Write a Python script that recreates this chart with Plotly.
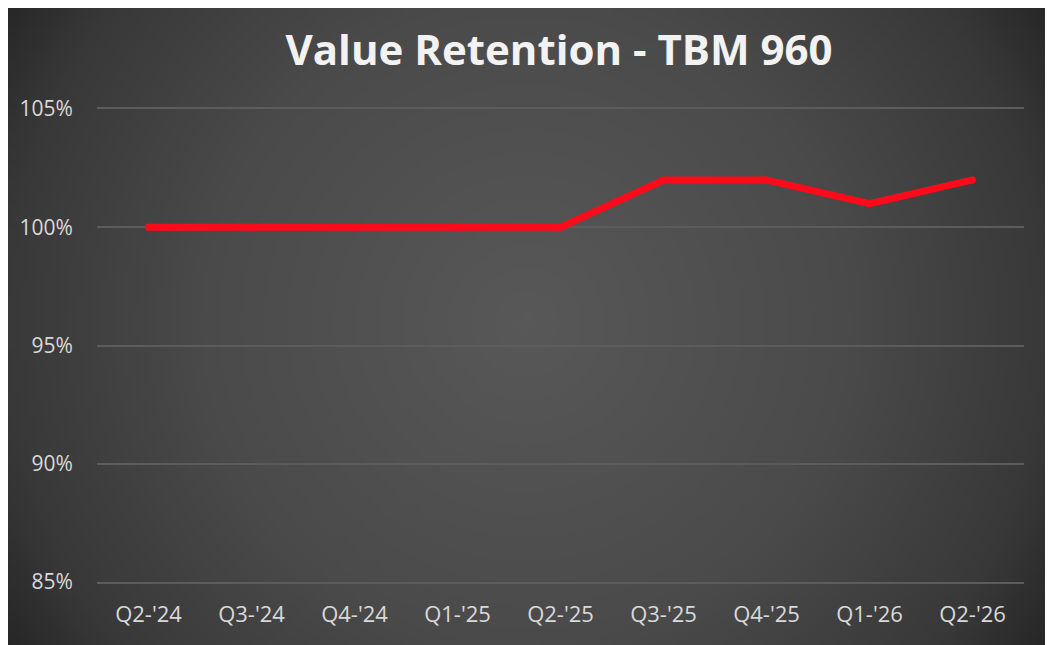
import base64
import struct
import zlib

import numpy as np
import plotly.graph_objects as go

quarters = ["Q2-'24", "Q3-'24", "Q4-'24", "Q1-'25", "Q2-'25", "Q3-'25", "Q4-'25", "Q1-'26", "Q2-'26"]
retention = [1.00, 1.00, 1.00, 1.00, 1.00, 1.02, 1.02, 1.01, 1.02]
y_ticks = [0.85, 0.90, 0.95, 1.00, 1.05]

W, H = 1053, 645
# the page body adds an 8px offset, so everything is placed 8px up/left
OFF = 8
L, R, T, B = 97 - OFF, 1024 - OFF, 109 - OFF, 582 - OFF
PW, PH = R - L, B - T

red = "#ff0a1a"
grid = "#5c5c5c"
label = "#d9d9d9"
font = "Open Sans"


def png_uri(rgb):
    h, w, _ = rgb.shape
    raw = b"".join(b"\x00" + rgb[i].tobytes() for i in range(h))

    def chunk(tag, data):
        return struct.pack(">I", len(data)) + tag + data + struct.pack(">I", zlib.crc32(tag + data) & 0xffffffff)

    png = (b"\x89PNG\r\n\x1a\n"
           + chunk(b"IHDR", struct.pack(">IIBBBBB", w, h, 8, 2, 0, 0, 0))
           + chunk(b"IDAT", zlib.compress(raw, 9))
           + chunk(b"IEND", b""))
    return "data:image/png;base64," + base64.b64encode(png).decode()


# radial grey background like the Excel chart area (quarter resolution, stretched)
S = 4
cx, cy, rad = (526 - OFF) / S, (322 - OFF) / S, 617 / S
yy, xx = np.mgrid[0:H // S + 1, 0:W // S + 1]
dist = np.hypot(xx - cx, yy - cy) / rad
shade = np.interp(dist, [0, 0.52, 0.85, 1.0], [0x58, 0x4a, 0x38, 0x26])
bg = np.repeat(shade[:, :, None], 3, axis=2).round().astype(np.uint8)

fig = go.Figure()

fig.add_trace(go.Scatter(
    x=quarters, y=retention,
    mode="lines+markers",
    line=dict(color=red, width=7),
    marker=dict(color=red, size=7),
    showlegend=False,
))

fig.add_layout_image(
    source=png_uri(bg), xref="paper", yref="paper",
    x=-L / PW, y=1 + T / PH, sizex=W / PW, sizey=H / PH,
    xanchor="left", yanchor="top", sizing="stretch", layer="below",
)

fig.update_layout(
    width=W, height=H,
    margin=dict(l=L, r=W - R, t=T, b=H - B),
    paper_bgcolor="#3a3a3a",
    plot_bgcolor="rgba(0,0,0,0)",
    title=dict(text="<b>Value Retention - TBM 960</b>", x=(559 - OFF) / W, xanchor="center",
               y=1 - (50 - OFF) / H, yanchor="middle",
               font=dict(family=font, size=42, color="#f2f2f2")),
    xaxis=dict(range=[-0.5, len(quarters) - 0.5],
               showgrid=False, zeroline=False,
               showline=True, mirror=True, linecolor=grid, linewidth=1.5,
               ticks="outside", ticklen=12, tickcolor="rgba(0,0,0,0)",
               tickfont=dict(family=font, size=22, color=label)),
    yaxis=dict(range=[0.85, 1.05],
               tickvals=y_ticks, tickformat=".0%",
               showgrid=True, gridcolor=grid, gridwidth=1.5,
               zeroline=False, showline=False,
               ticks="outside", ticklen=19, tickcolor="rgba(0,0,0,0)",
               tickfont=dict(family=font, size=21, color=label)),
)

fig.write_html("out.html")
